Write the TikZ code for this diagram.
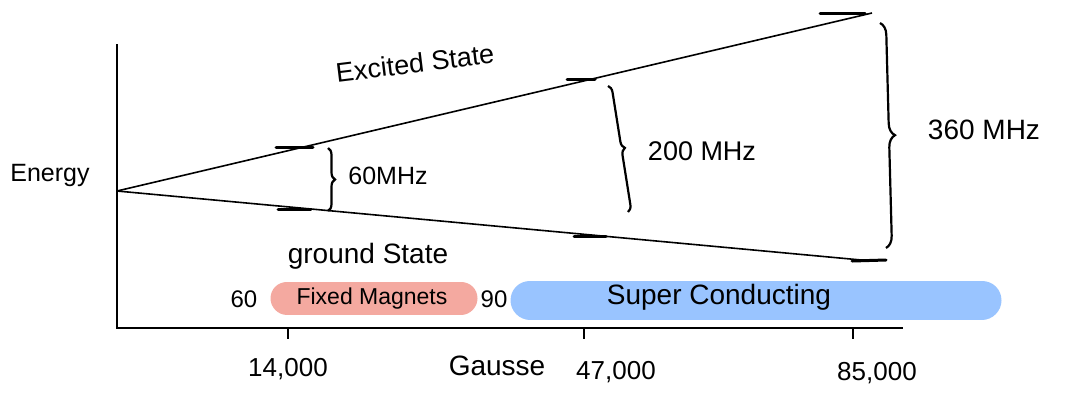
\documentclass[tikz,border=0pt]{standalone}
\usepackage{fontspec}
\setmainfont{Liberation Sans}
\usetikzlibrary{decorations.pathreplacing}
\definecolor{fixedband}{HTML}{F4A9A0}
\definecolor{superband}{HTML}{99C4FF}
\tikzset{
  axisline/.style={line width=2pt},
  levelline/.style={line width=1.6pt},
  levelmark/.style={line width=3pt, line cap=round},
  tickmark/.style={line width=2pt},
  splitbrace/.style={decorate, decoration={brace, amplitude=7pt}, line width=2.2pt},
  hand/.style={font=\fontsize{#1}{#1}\selectfont, inner sep=1pt},
  hand/.default=26,
  band/.style={line cap=round},
}
\begin{document}
\begin{tikzpicture}[x=1pt,y=-1pt]
\useasboundingbox (0,0) rectangle (1065,392);

% range bands behind the axis labels
\draw[band, line width=33pt, fixedband] (287,298) -- (461,298);
\draw[band, line width=39pt, superband] (530,300) -- (982,300);

% axes
\coordinate (ytop) at (117,44);
\coordinate (orig) at (117,328);
\coordinate (xend) at (903,328);
\draw[axisline] (ytop) -- (orig) -- (xend);

% tick marks on the field axis
\coordinate (t1) at (288,328);
\coordinate (t2) at (584,328);
\coordinate (t3) at (853,328);
\draw[tickmark] (t1) -- ++(0,11);
\draw[tickmark] (t2) -- ++(0,11);
\draw[tickmark] (t3) -- ++(0,11);

% Zeeman splitting lines
\coordinate (split) at (117,191);
\coordinate (upend) at (872,13);
\coordinate (lowend) at (872,261);
\draw[levelline] (split) -- (upend);
\draw[levelline] (split) -- (lowend);

% level markers at the three fields
\draw[levelmark] (276,147) -- (313,147);
\draw[levelmark] (278,209) -- (311,209);
\draw[levelmark] (567,79) -- (595,79);
\draw[levelmark] (574,236) -- (606,236);
\draw[levelmark] (820,13) -- (865,13);
\draw[levelmark] (852,261) -- (886,260);

% splitting braces
\draw[splitbrace] (328,148) -- (328,211);
\draw[splitbrace] (608,86) -- (628,212);
\draw[splitbrace, decoration={brace, amplitude=12pt}] (880,23) -- (886,248);

% labels
\node[hand=25] (energy) at (50,175) {Energy};
\node[hand=27, rotate=7] (excited) at (415,63) {Excited State};
\node[hand=28] (ground) at (368,256) {ground State};
\node[hand=25] (mhz60) at (388,176) {60MHz};
\node[hand=27] (mhz200) at (702,151) {200 MHz};
\node[hand=28] (mhz360) at (984,130) {360 MHz};
\node[hand=24] (lo) at (244,299) {60};
\node[hand=23] (fixed) at (372,299) {Fixed Magnets};
\node[hand=24] (hi) at (494,299) {90};
\node[hand=28] (superc) at (719,297) {Super Conducting};
\node[hand=26] (g14) at (288,369) {14,000};
\node[hand=28] (gauss) at (497,366) {Gausse};
\node[hand=26] (g47) at (616,372) {47,000};
\node[hand=26] (g85) at (877,373) {85,000};
\end{tikzpicture}
\end{document}
